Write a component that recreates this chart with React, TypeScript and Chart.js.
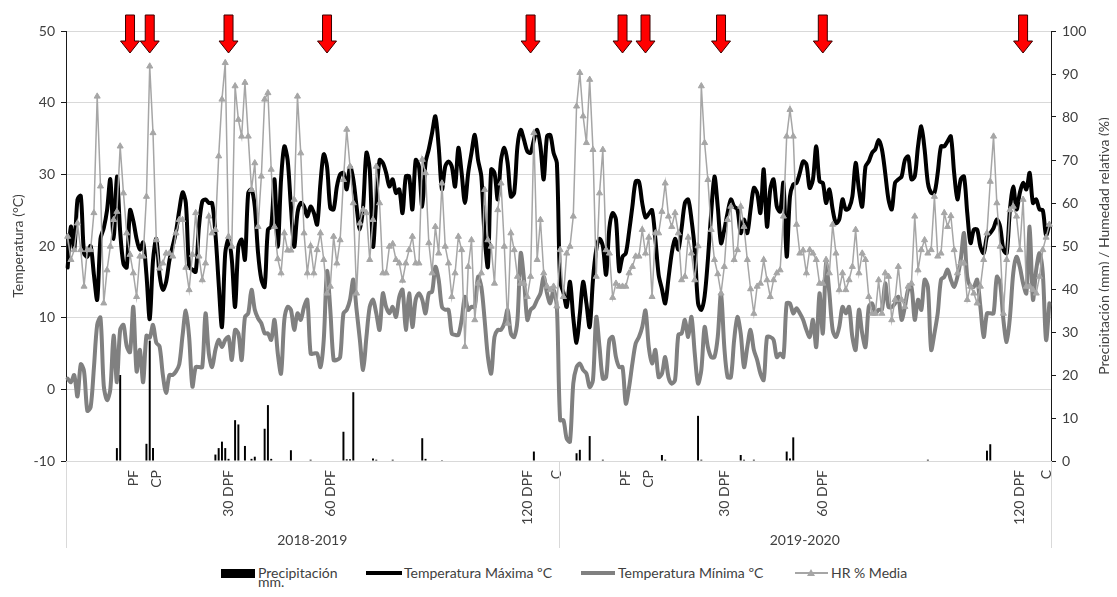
import React, { useEffect, useRef } from 'react';
import Chart from 'chart.js/auto';

const FONT = 'Lato, "Open Sans", sans-serif';

// Daily maximum temperature (°C), season 2018-2019 and 2019-2020 (150 days each)
const tmaxS1 = [17,22.7,19.5,26.5,27,19,18.5,20,16,12.5, 21,22.5,25,29.3,21,29.7,22,17.5,17,25, 23.5,21,19.5,20.5,16,9.8,18,21,16,13.9, 15,18,20,22,25,27.5,26,17.1,16.7,16.4, 22.7,26.2,26.5,26,26,21.8,14.8,8.7,19,20.9, 18.1,11.5,19.9,20.9,18.1,27.4,27.9,25.5,19,15.3, 14.3,22.3,22.7,29.3,19.9,29.3,33.9,32,25.5,19.9, 24.6,26,25.5,24.1,25.5,24.6,23,28.8,32.8,31.1, 25.3,25.1,28.3,30,30.2,27.9,31.1,29.3,25.5,22.3, 25.5,33,30.7,19.9,26.5,32,31.6,30.2,28.3,29.3, 27.4,27.9,24.6,29.7,29.7,25.1,32,31.1,25.5,31.6, 33.5,35.8,38.1,33.9,27.9,31.1,31.8,31.1,28.3,33.7, 30.2,26,30.2,33,35.5,32,29.7,21.3,17.1,30.7, 30.2,26.5,32,33.7,31.6,26.9,27.4,33.9,36.2,34.8, 33.2,33,34.8,36.2,33.9,29.3,35.3,35.5,33,31.6];
const tmaxS2 = [15,13.5,11.5,15,10,6.5,10.5,15,12,8.7, 15.3,19.5,21,20,16,22.5,24.6,23.7,16.5,18.5, 19,22,25.5,29,29,26,24,24.5,25,21, 16,14,12,15.5,19,21,19.5,22.5,26,26.5, 23.7,19.5,12,11.1,13,18.1,24.6,29.7,25.5,20.4, 22.3,24.6,26.5,25.5,25.1,21.8,23.7,21.8,25.1,28.1, 27.4,24.6,30.7,22.7,27.9,29.3,25.5,24.8,28.8,18.5, 26.9,28.6,28.8,30.2,31.8,31.4,28.1,29.3,33.9,29, 28.8,26,27.9,25.1,23.2,23.7,26.5,25.1,25.3,26.9, 31.6,27.9,25.5,31.1,31.8,33,33.5,34.8,33.5,30.2, 26.5,25.1,28.8,29.3,29.7,32,32.5,29.3,29.7,33.9, 36.7,33.5,28.8,27.4,27.4,30.2,33.9,33.9,34.6,35.3, 30.2,26.5,29.3,29.7,24.6,20.4,22.3,22.3,19.9,19, 21.3,21.8,22.5,23.7,22.7,19.5,19,25.1,28.3,25.1, 27.4,28.8,27.9,30.2,26,26.5,25.1,25,21.5,23];

// Daily minimum temperature (°C)
const tminS1 = [1.5,1,2,-1,3.5,2.5,-3,-2.5,3,9, 10,0.5,-1.5,0,7.5,1,8.3,9,6,5.2, 11.5,2.5,5.5,1,7.5,7.2,9,6.5,6,2, -0.5,2,2,2.5,3.5,7.5,11,7.3,0.4,3.1, 3.1,3.1,10.6,5,3.1,5.5,6.9,5.9,6.9,7.3, 4.1,8.3,7.8,4.1,10.1,10.6,13.9,11.1,9.9,9.2, 7.8,7.8,6.9,9.7,5,2.2,9.7,11.5,11.1,8.3, 10.6,9.7,11.5,12.5,5,5,5,3.1,6.9,16.5, 11.1,4.1,4.1,4.5,10.6,11.1,12.5,15.3,11.1,6.9, 2.7,7.3,11.5,12.5,10.6,8.3,13.4,11.5,10.6,11.5, 10.1,12.9,13.9,8.3,13.4,8.7,12.5,13.4,12.5,10.6, 13.4,13.6,17.1,15.3,11.5,11.1,11.1,7.8,7.6,7.6, 9.7,12.9,11.1,11.5,11.5,15.7,14.3,9.7,4.5,2.2, 7.3,8.3,8.3,9.2,11.1,7.8,7.3,9.7,19,15.3, 9.7,11.1,11.5,12.5,13.4,15.7,13.4,12,13.9,11.5];
const tminS2 = [-4.3,-4.3,-6.9,-7.3,0.8,3.1,3.6,2.7,2.2,0.3, 1.3,10.1,5.9,1.5,1.7,6.9,7.3,4.5,3.1,3.1, -2,0.3,3.6,6.4,7.3,8.7,11,5.9,3.6,5.5, 1.7,2.2,4.5,1.7,0.8,1.3,7.6,7.8,9.7,7.3, 10.1,5,0.8,2.7,8.7,5.9,4.5,4.5,7.3,13.4, 5.9,1.7,1.7,6.9,10.1,7.8,3.1,5.9,8.3,5.5, 4.1,2.2,1.3,7.3,7.3,6.9,4.5,5,4.5,12, 12,10.6,11.3,10.6,9.7,8.3,7.3,9.7,5.9,13.4, 7.8,17.6,13.4,8.3,7.3,8.7,11.5,10.6,11.5,7.3, 5.5,11.1,7.8,5.9,11.5,12,10.6,11.1,11.1,14.8, 11.5,11.5,12,12.9,9.7,11.5,13.9,14.3,9.7,12.5, 11.1,15.3,14.3,5.5,7.8,10.6,15.3,15.7,16.7,15.3, 14.3,15.7,18.1,21.8,15.7,14.3,14.3,15.3,11.5,7.3, 10.6,10.6,10.6,15.7,14.8,9.7,6.6,10.1,16.2,18.5, 17.1,14.8,13.4,22.7,12.5,16.7,19,16.2,6.9,12];

// Mean relative humidity (%)
const hrS1 = [52.2,46.8,49.1,55.3,49.1,40.6,49.1,49.1,57.7,84.8, 63.9,36.7,44.4,49.9,56.1,58,73.2,62.3,53,48, 43.7,38.2,47.6,47.6,61.5,91.8,76.3,51.4,44.8,46, 48.3,48.3,47.6,53,56.1,56.1,45,39.8,48,57.7, 47.6,42.1,46,56.9,53,53.8,70.9,84.1,92.6,52.2, 49.9,87.2,79.4,75.5,88,75.5,63.1,69.3,54.5,66.2, 84.1,85.6,67.8,54.5,47,43.7,53,49,49,60.8, 84.8,71.6,53,43.7,50,43.7,49.1,53,46.8,39, 40.6,52.2,46,51.4,65.4,77.1,68.5,60,39,55.3, 58.5,57.7,46.8,56.1,68.5,60,43.7,43.7,49.9,50.5, 46.8,46,42,46,49.1,52.2,46,46,70.1,67, 50.7,43.7,54.5,48.3,64.6,49.9,46,38.2,43.7,52.2, 49.1,26.6,45.2,51.4,32.8,41.3,43.7,63.1,51.4,49.9, 41.3,58.4,64.6,49.9,32,53,49.1,42.9,41.3,41.3, 38.2,42.9,76.3,46.8,56.1,43.7,40.6,39.8,40.6,36];
const hrS2 = [49.1,38.2,48.3,49.9,56.9,82.5,90.3,80.2,74,88.7, 72.4,42.9,62.3,72.4,49.1,48.3,38,41.3,40.6,40.6, 40.6,43.7,45.2,47.6,47.6,53.8,48.3,52,38.2,53, 53,58,64.6,56.9,54.5,57.7,53,42.1,42.9,52, 48.3,42.1,50,87.2,74,65.4,53.8,46.8,43.5,39, 45.2,56.1,59.2,46.8,49.1,59.2,54.5,46.8,40,34.3, 40.6,41.3,46.8,42.1,38.2,42.1,43.7,44.4,56.9,75.5, 81.7,75.5,55,48.3,49,43.7,49.1,48.3,46.8,41.3, 41.3,46.8,43.7,55,48.3,39.8,43.7,39.8,42.1,45.2, 53.8,43.7,48.3,46.8,38.2,34.3,34.3,42.1,34.3,43.7, 42.9,32.8,37.5,45.2,37.5,35.9,40.6,41.3,56.9,44.4, 49.1,51.4,48.3,49.1,61.5,47.6,48.3,57.7,54.5,57, 49.1,43.7,46,46,37.5,40.6,39,36.7,40.6,46.8, 53,65,75.5,60,49.9,34.3,46.8,58.4,59.2,56.9, 49.1,60.8,40.6,40.6,39.8,39,42.9,49.1,52,55];

// Precipitation (mm): day index and amount
const precipDays = [15,16,24,25,26,45,46,47,48,49,51,52,54,56,57,60,61,62,68,74,84,85,86,87,93,94,99,108,109,114,142,155,156,159,163,181,182,192,193,205,206,209,219,220,221,262,280,281];
const precipMm = [3,20,4,28,3,1.5,3,4.5,3,0.5,9.5,8.5,3.5,0.5,1,7.5,13,0.5,2.5,0.3,6.8,0.4,0.4,16,0.6,0.3,0.3,5.3,0.5,0.2,2.2,1.8,2.6,5.8,0.3,1.4,0.3,10.5,0.3,1.4,0.3,0.3,2.2,0.6,5.5,0.3,2.4,3.9];

// Phenological labels on the category axis
const labelIdx = [20, 27, 49, 80, 140, 149, 170, 177, 200, 230, 290, 298];
const labelText = ['PF', 'CP', '30 DPF', '60 DPF', '120 DPF', 'C', 'PF', 'CP', '30 DPF', '60 DPF', '120 DPF', 'C'];
const arrowIdx = [19, 25, 49, 79, 141, 169, 176, 199, 230, 291];
const seasons = ['2018-2019', '2019-2020'];
const seasonLength = 150;

const tmax = [...tmaxS1, ...tmaxS2];
const tmin = [...tminS1, ...tminS2];
const hr = [...hrS1, ...hrS2];
const nDays = tmax.length;
const labels: string[] = Array.from({ length: nDays }, () => '');
labelIdx.forEach((d, k) => { labels[d] = labelText[k]; });
const precip: (number | null)[] = Array.from({ length: nDays }, () => null);
precipDays.forEach((d, k) => { precip[d] = precipMm[k]; });

const decorPlugin = {
  id: 'decor',
  afterDraw(chart: any) {
    const { ctx, chartArea, scales } = chart;
    const x = scales.x;
    ctx.save();
    const b0 = chartArea.left;
    const b1 = x.getPixelForValue(seasonLength - 0.5);
    const b2 = chartArea.right;
    ctx.strokeStyle = '#d9d9d9';
    ctx.lineWidth = 1;
    [b0, b1, b2].forEach((px: number) => {
      const xx = Math.round(px) + 0.5;
      ctx.beginPath();
      ctx.moveTo(xx, chartArea.bottom);
      ctx.lineTo(xx, 540);
      ctx.stroke();
    });
    ctx.fillStyle = '#404040';
    ctx.font = `14px ${FONT}`;
    ctx.textAlign = 'center';
    ctx.textBaseline = 'middle';
    ctx.fillText(seasons[0], (b0 + b1) / 2, 532);
    ctx.fillText(seasons[1], (b1 + b2) / 2, 532);

    const cy = (chartArea.top + chartArea.bottom) / 2;
    ctx.save();
    ctx.translate(10, cy);
    ctx.rotate(-Math.PI / 2);
    ctx.fillText('Temperatura (°C)', 0, 0);
    ctx.restore();
    ctx.save();
    ctx.translate(1096, cy);
    ctx.rotate(-Math.PI / 2);
    ctx.fillText('Precipitación (mm) / Humedad relativa (%)', 0, 0);
    ctx.restore();

    arrowIdx.forEach((i) => {
      const px = x.getPixelForValue(i);
      ctx.beginPath();
      ctx.moveTo(px - 4.5, 7);
      ctx.lineTo(px + 4.5, 7);
      ctx.lineTo(px + 4.5, 33);
      ctx.lineTo(px + 9.5, 33);
      ctx.lineTo(px, 45);
      ctx.lineTo(px - 9.5, 33);
      ctx.lineTo(px - 4.5, 33);
      ctx.closePath();
      ctx.fillStyle = '#ff0000';
      ctx.fill();
      ctx.strokeStyle = '#3a0000';
      ctx.lineWidth = 1;
      ctx.stroke();
    });
    ctx.restore();
  },
};

export default function App() {
  const ref = useRef<HTMLCanvasElement>(null);
  useEffect(() => {
    if (!ref.current) return;
    Chart.defaults.font.family = FONT;
    const chart = new Chart(ref.current, {
      type: 'bar',
      data: {
        labels,
        datasets: [
          {
            type: 'line',
            label: 'HR % Media',
            data: hr,
            yAxisID: 'y1',
            borderColor: '#a6a6a6',
            backgroundColor: '#a6a6a6',
            borderWidth: 1.5,
            pointStyle: 'triangle',
            pointRadius: 3.5,
            pointBorderWidth: 1,
            order: 1,
          },
          {
            type: 'line',
            label: 'Temperatura Mínima ºC',
            data: tmin,
            yAxisID: 'y',
            borderColor: '#808080',
            borderWidth: 4,
            pointRadius: 0,
            tension: 0.3,
            borderJoinStyle: 'round',
            borderCapStyle: 'round',
            order: 2,
          },
          {
            type: 'line',
            label: 'Temperatura Máxima ºC',
            data: tmax,
            yAxisID: 'y',
            borderColor: '#000000',
            borderWidth: 4,
            pointRadius: 0,
            tension: 0.3,
            borderJoinStyle: 'round',
            borderCapStyle: 'round',
            order: 3,
          },
          {
            type: 'bar',
            label: 'Precipitación mm.',
            data: precip,
            yAxisID: 'y1',
            backgroundColor: '#000000',
            barPercentage: 0.6,
            categoryPercentage: 1,
            order: 4,
          },
        ],
      } as any,
      options: {
        responsive: false,
        devicePixelRatio: 1,
        animation: false,
        events: [],
        layout: { padding: { top: 23, left: 0, right: 0, bottom: 0 } },
        plugins: { legend: { display: false }, tooltip: { enabled: false } },
        scales: {
          x: {
            type: 'category',
            offset: true,
            grid: { display: false, drawTicks: false },
            border: { display: false },
            ticks: {
              autoSkip: false,
              minRotation: 90,
              maxRotation: 90,
              padding: 9,
              color: '#404040',
              font: { size: 14, family: FONT },
            },
            afterFit: (s: any) => { s.height = 97; },
          },
          y: {
            position: 'left',
            min: -10,
            max: 50,
            ticks: { stepSize: 10, padding: 6, color: '#404040', font: { size: 14, family: FONT } },
            grid: { color: '#d9d9d9', lineWidth: 1, tickLength: 5, tickColor: '#1a1a1a' },
            border: { color: '#1a1a1a', width: 1 },
            afterFit: (s: any) => { s.width = 58; },
          },
          y1: {
            position: 'right',
            min: 0,
            max: 100,
            ticks: { stepSize: 10, padding: 6, color: '#404040', font: { size: 14, family: FONT } },
            grid: { drawOnChartArea: false, tickLength: 5, tickColor: '#1a1a1a' },
            border: { color: '#1a1a1a', width: 1 },
            afterFit: (s: any) => { s.width = 66; },
          },
        },
      } as any,
      plugins: [decorPlugin],
    });
    return () => chart.destroy();
  }, []);

  const txt: React.CSSProperties = {
    position: 'absolute',
    fontSize: 14,
    lineHeight: '16px',
    color: '#404040',
    whiteSpace: 'nowrap',
    fontFamily: FONT,
  };

  return (
    <div style={{ position: 'relative', width: 1109, height: 581, fontFamily: FONT }}>
      <canvas ref={ref} width={1109} height={550} style={{ display: 'block', width: 1109, height: 550 }} />
      <div style={{ position: 'absolute', left: 213, top: 561, width: 34, height: 9, background: '#000' }} />
      <div style={{ ...txt, left: 250, top: 557 }}>Precipitación</div>
      <div style={{ ...txt, left: 250, top: 566 }}>mm.</div>
      <div style={{ position: 'absolute', left: 358, top: 563, width: 36, height: 4, background: '#000' }} />
      <div style={{ ...txt, left: 396, top: 557 }}>Temperatura Máxima ºC</div>
      <div style={{ position: 'absolute', left: 573, top: 563, width: 34, height: 4, background: '#808080' }} />
      <div style={{ ...txt, left: 610, top: 557 }}>Temperatura Mínima ºC</div>
      <div style={{ position: 'absolute', left: 787, top: 564, width: 33, height: 2, background: '#a6a6a6' }} />
      <div style={{ position: 'absolute', left: 799, top: 561, width: 0, height: 0, borderLeft: '4px solid transparent', borderRight: '4px solid transparent', borderBottom: '7px solid #a6a6a6' }} />
      <div style={{ ...txt, left: 823, top: 557 }}>HR % Media</div>
    </div>
  );
}
